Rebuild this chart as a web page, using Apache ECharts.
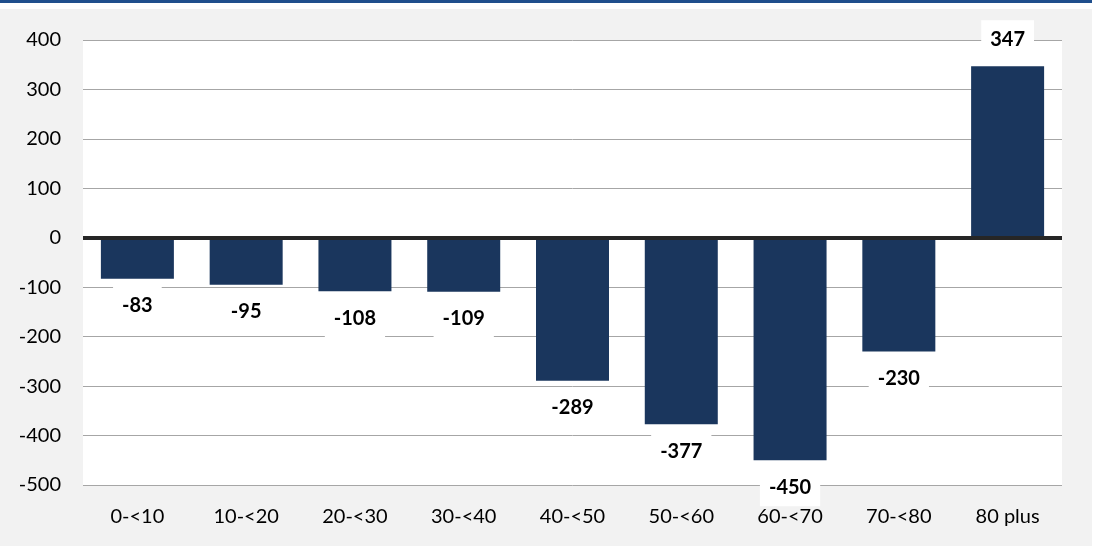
<!DOCTYPE html>
<html>
<head>
<meta charset="utf-8">
<script src="https://cdn.jsdelivr.net/npm/echarts@6/dist/echarts.min.js"></script>
<style>
html,body{margin:0;padding:0;background:#ffffff;}
#chart{width:1094px;height:549px;}
</style>
</head>
<body>
<div id="chart"></div>
<script>
const categories = ['0-<10','10-<20','20-<30','30-<40','40-<50','50-<60','60-<70','70-<80','80 plus'];
const values = [-83, -95, -108, -109, -289, -377, -450, -230, 347];
const yTicks = {min: -500, max: 400, interval: 100};

const FONT = 'Lato';
const chart = echarts.init(document.getElementById('chart'), null, {renderer: 'canvas'});

const dataItems = values.map(v => ({
  value: v,
  label: {position: v < 0 ? 'bottom' : 'top'}
}));

chart.setOption({
  backgroundColor: '#ffffff',
  animation: false,
  textStyle: {fontFamily: FONT},
  graphic: [
    {type: 'rect', left: 0, top: 0, z: -10, shape: {width: 1092, height: 3}, style: {fill: '#1f4e8c'}},
    {type: 'rect', left: 0, top: 9, z: -10, shape: {width: 1092, height: 537}, style: {fill: '#f2f2f2'}}
  ],
  grid: {
    left: 83, right: 32, top: 40, bottom: 64,
    show: true, backgroundColor: '#ffffff', borderWidth: 0
  },
  xAxis: {
    type: 'category',
    data: categories,
    axisLine: {show: false},
    axisTick: {show: false},
    axisLabel: {color: '#000', fontSize: 20, fontFamily: FONT, margin: 22}
  },
  yAxis: {
    type: 'value',
    min: yTicks.min, max: yTicks.max, interval: yTicks.interval,
    axisLine: {show: false},
    axisTick: {show: false},
    splitLine: {lineStyle: {color: '#a6a6a6', width: 1}},
    axisLabel: {color: '#000', fontSize: 20, fontFamily: FONT, margin: 22}
  },
  series: [{
    type: 'bar',
    data: dataItems,
    barWidth: 73,
    itemStyle: {color: '#1a365d'},
    label: {
      show: true,
      fontFamily: FONT,
      fontSize: 20,
      fontWeight: 'bold',
      color: '#000',
      backgroundColor: '#ffffff',
      padding: [9, 9],
      distance: 8
    },
    markLine: {
      silent: true,
      symbol: 'none',
      label: {show: false},
      lineStyle: {color: '#262626', width: 4, type: 'solid'},
      data: [{yAxis: 0}]
    }
  }]
});
</script>
</body>
</html>
